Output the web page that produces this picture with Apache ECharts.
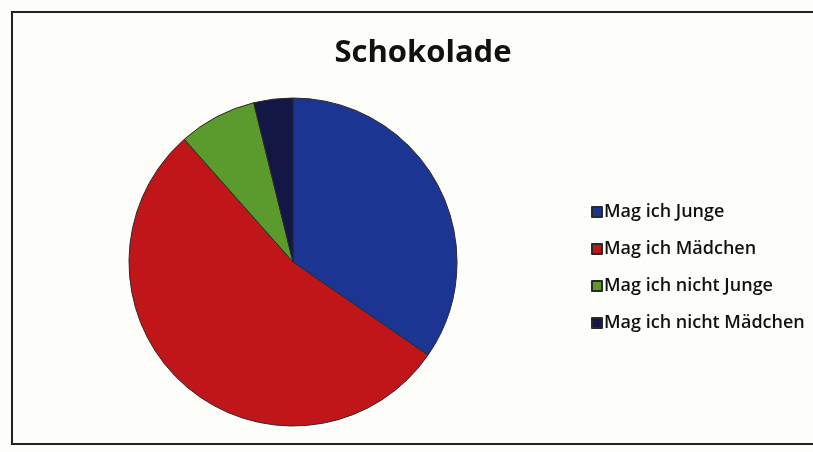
<!DOCTYPE html>
<html>
<head>
<meta charset="utf-8">
<script src="https://cdn.jsdelivr.net/npm/echarts@6/dist/echarts.min.js"></script>
<style>
  html, body { margin: 0; padding: 0; background: #fdfdf9; }
  #chart { width: 813px; height: 452px; }
</style>
</head>
<body>
<div id="chart"></div>
<script>
// Anteile (Anzahl Stimmen)
const categories = ['Mag ich Junge', 'Mag ich Mädchen', 'Mag ich nicht Junge', 'Mag ich nicht Mädchen']
const values = [9, 14, 2, 1]
const colors = ['#1c3592', '#c01619', '#5b9a2c', '#121745']

const myChart = echarts.init(document.getElementById('chart'))

const option = {
  backgroundColor: '#fdfdf9',
  color: colors,
  title: {
    text: 'Schokolade',
    left: 418,
    top: 33,
    textAlign: 'center',
    textStyle: { fontFamily: 'Open Sans', fontWeight: 'bold', fontSize: 31, color: '#111' }
  },
  legend: {
    orient: 'vertical',
    left: 586,
    top: 198,
    itemWidth: 10,
    itemHeight: 10,
    itemGap: 19,
    icon: 'rect',
    textStyle: { fontFamily: 'Open Sans', fontWeight: 600, fontSize: 18, color: '#111', padding: [0, 0, 0, -3] },
    data: categories
  },
  graphic: [{
    type: 'rect',
    shape: { x: 12, y: 12, width: 840, height: 432 },
    style: { fill: 'none', stroke: '#222', lineWidth: 2 },
    z: -1
  }],
  series: [{
    type: 'pie',
    center: [293, 262],
    radius: 164,
    startAngle: 90,
    clockwise: true,
    label: { show: false },
    labelLine: { show: false },
    itemStyle: { borderColor: '#2a2a2a', borderWidth: 1 },
    emphasis: { disabled: true },
    data: categories.map((name, i) => ({ name, value: values[i] }))
  }]
}

myChart.setOption(option)
</script>
</body>
</html>
